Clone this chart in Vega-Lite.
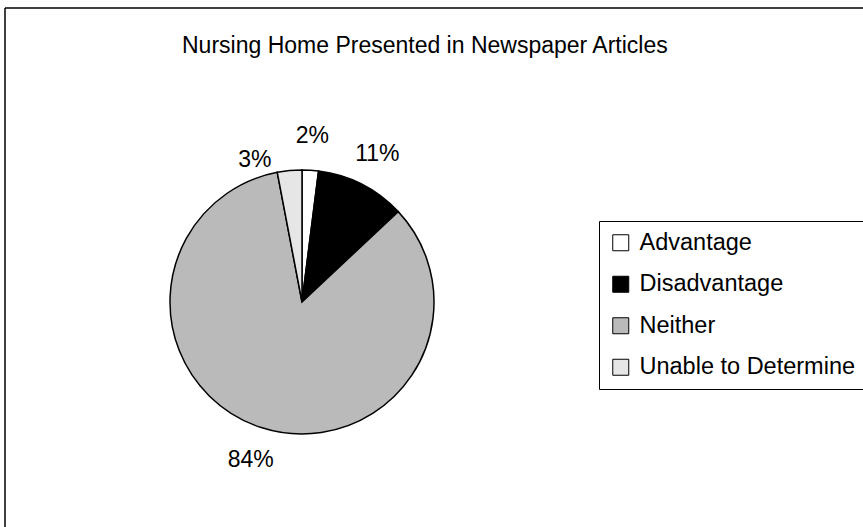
{
  "$schema": "https://vega.github.io/schema/vega-lite/v6.json",
  "width": 858,
  "height": 519,
  "autosize": {"type": "none"},
  "padding": {"left": 5, "top": 8, "right": 0, "bottom": 0},
  "background": "white",
  "config": {
    "view": {"stroke": null},
    "font": "Liberation Sans"
  },
  "title": {
    "text": "Nursing Home Presented in Newspaper Articles",
    "anchor": "start",
    "frame": "group",
    "dx": 177,
    "dy": 30,
    "offset": -39,
    "baseline": "alphabetic",
    "font": "Liberation Sans",
    "fontSize": 23,
    "fontWeight": "normal",
    "color": "black"
  },
  "data": {
    "values": [
      {"category": "Advantage", "percent": 2, "label": "2%"},
      {"category": "Disadvantage", "percent": 11, "label": "11%"},
      {"category": "Neither", "percent": 84, "label": "84%"},
      {"category": "Unable to Determine", "percent": 3, "label": "3%"}
    ]
  },
  "layer": [
    {
      "data": {"values": [{}]},
      "mark": {"type": "rule", "stroke": "black", "strokeWidth": 1.5},
      "encoding": {"y": {"value": 0}}
    },
    {
      "data": {"values": [{}]},
      "mark": {"type": "rule", "stroke": "black", "strokeWidth": 1.5},
      "encoding": {"x": {"value": 0}}
    },
    {
      "mark": {
        "type": "arc",
        "outerRadius": 132,
        "stroke": "black",
        "strokeWidth": 1.5,
        "x": {"expr": "width * 0.34615"},
        "y": {"expr": "height * 0.56647"}
      },
      "encoding": {
        "theta": {"field": "percent", "type": "quantitative", "stack": true},
        "order": {"field": "category", "type": "nominal"},
        "color": {
          "field": "category",
          "type": "nominal",
          "scale": {
            "domain": ["Advantage", "Disadvantage", "Neither", "Unable to Determine"],
            "range": ["#ffffff", "#000000", "#bababa", "#e6e6e6"]
          },
          "legend": {
            "title": null,
            "orient": "none",
            "legendX": 594,
            "legendY": 213,
            "padding": 10,
            "strokeColor": "black",
            "fillColor": "white",
            "cornerRadius": 0,
            "symbolType": "square",
            "symbolSize": 256,
            "symbolStrokeColor": "black",
            "symbolStrokeWidth": 1,
            "labelFont": "Liberation Sans",
            "labelFontSize": 23.5,
            "labelColor": "black",
            "labelOffset": 7,
            "rowPadding": 16.5,
            "labelLimit": 400
          }
        }
      }
    },
    {
      "mark": {
        "type": "text",
        "radius": 166,
        "font": "Liberation Sans",
        "fontSize": 23,
        "color": "black",
        "align": "center",
        "baseline": "middle",
        "x": {"expr": "width * 0.34615"},
        "y": {"expr": "height * 0.56647"}
      },
      "encoding": {
        "theta": {"field": "percent", "type": "quantitative", "stack": true},
        "order": {"field": "category", "type": "nominal"},
        "text": {
          "condition": {"test": "datum.category === 'Unable to Determine'", "value": ""},
          "field": "label",
          "type": "nominal"
        }
      }
    },
    {
      "mark": {
        "type": "text",
        "radius": 150,
        "dx": -33,
        "dy": 7,
        "font": "Liberation Sans",
        "fontSize": 23,
        "color": "black",
        "align": "center",
        "baseline": "middle",
        "x": {"expr": "width * 0.34615"},
        "y": {"expr": "height * 0.56647"}
      },
      "encoding": {
        "theta": {"field": "percent", "type": "quantitative", "stack": true},
        "order": {"field": "category", "type": "nominal"},
        "text": {
          "condition": {"test": "datum.category !== 'Unable to Determine'", "value": ""},
          "field": "label",
          "type": "nominal"
        }
      }
    }
  ]
}
